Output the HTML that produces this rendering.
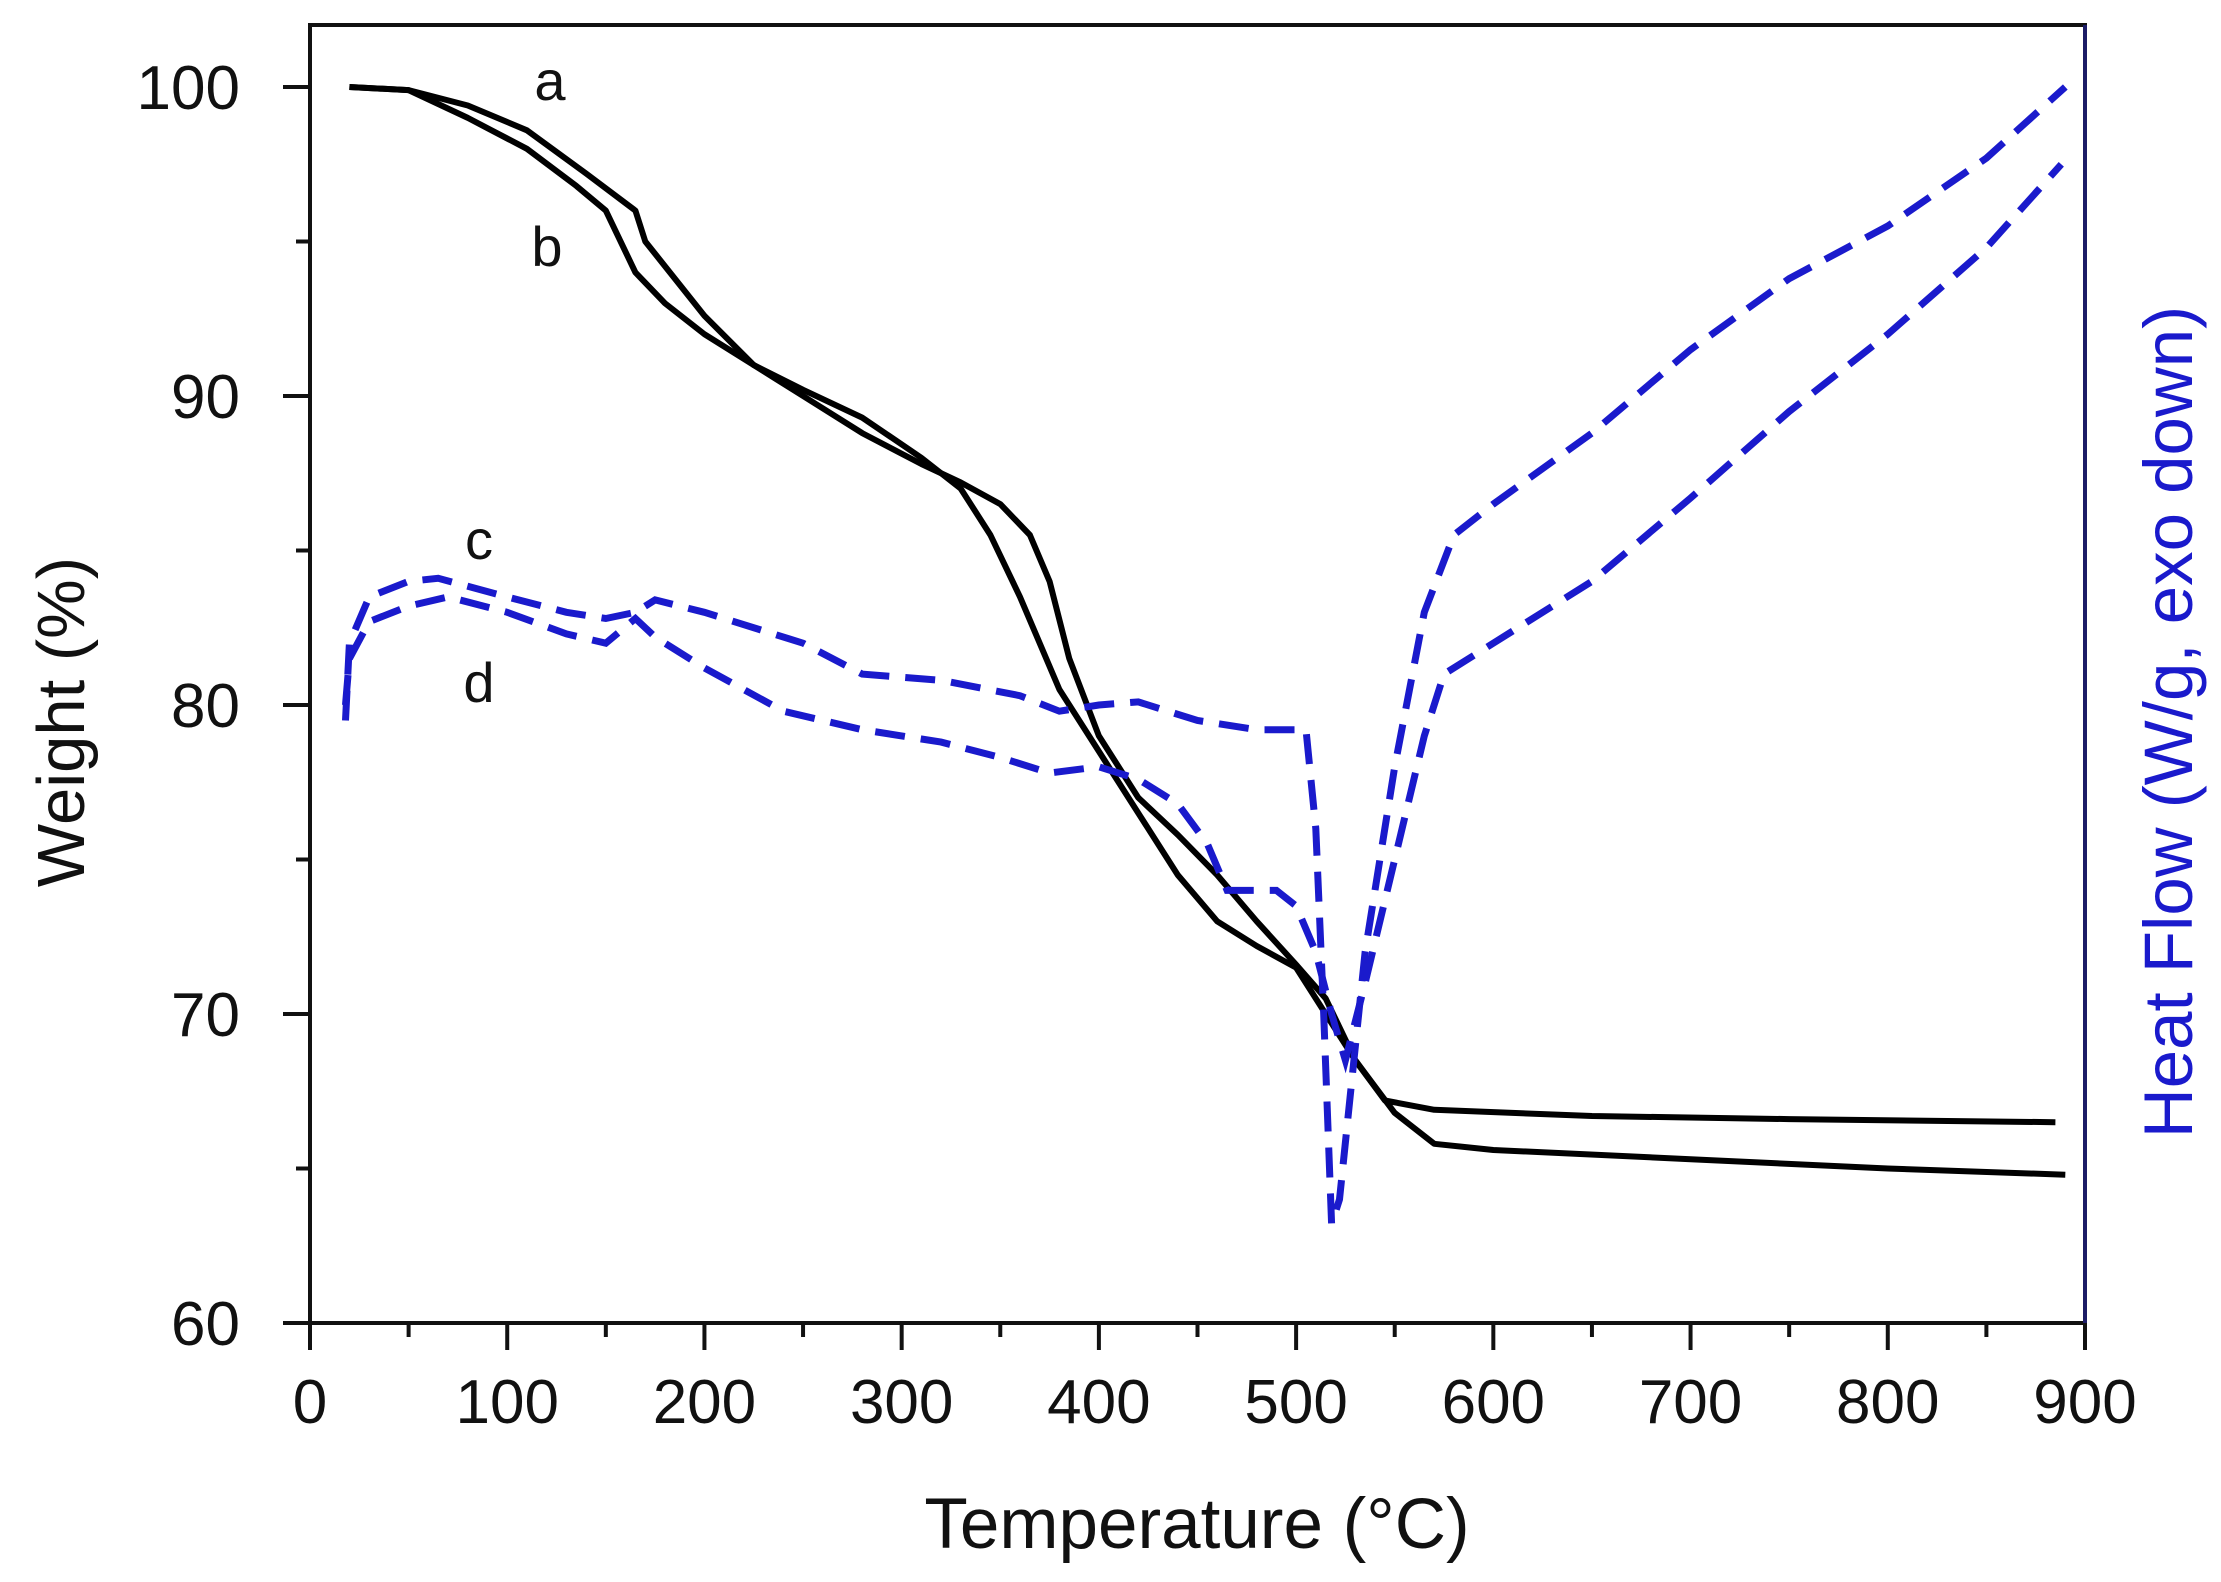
<!DOCTYPE html>
<html><head><meta charset="utf-8"><style>
html,body{margin:0;padding:0;background:#fff;}
svg{display:block;font-family:"Liberation Sans",Arial,sans-serif;}
</style></head><body>
<svg id="chart" width="2221" height="1582" viewBox="0 0 2221 1582" xmlns="http://www.w3.org/2000/svg">
<g id="axes"></g>
<g id="series"></g>
<text x="1197" y="1548" font-size="71" text-anchor="middle" fill="#111">Temperature (°C)</text>
<text transform="translate(84,722) rotate(-90)" font-size="67" text-anchor="middle" fill="#111">Weight (%)</text>
<text transform="translate(2192,722) rotate(-90)" font-size="69" text-anchor="middle" fill="#1a1acc">Heat Flow (W/g, exo down)</text>
<text x="550" y="100" font-size="56" text-anchor="middle" fill="#111">a</text>
<text x="547" y="266" font-size="56" text-anchor="middle" fill="#111">b</text>
<text x="479" y="559" font-size="56" text-anchor="middle" fill="#111">c</text>
<text x="479" y="702" font-size="56" text-anchor="middle" fill="#111">d</text>
</svg>
<script>
const xTicks=[0,100,200,300,400,500,600,700,800,900];
const yTicks=[60,70,80,90,100];
const aT=[20,50,80,110,140,165,170,180,200,225,250,280,310,330,350,365,375,385,400,420,440,460,480,500,515,530,545,570,650,750,885];
const aW=[100,99.9,99.4,98.6,97.2,96,95,94.2,92.6,91,90,88.8,87.8,87.2,86.5,85.5,84,81.5,79,77,75.8,74.5,73,71.6,70.5,68.5,67.2,66.9,66.7,66.6,66.5];
const bT=[20,50,80,110,135,150,165,180,200,225,250,280,310,330,345,360,380,400,420,440,460,480,500,515,530,550,570,600,700,800,890];
const bW=[100,99.9,99,98,96.8,96,94,93,92,91,90.2,89.3,88,87,85.5,83.5,80.5,78.5,76.5,74.5,73,72.2,71.5,70,68.5,66.8,65.8,65.6,65.3,65,64.8];
const cT=[18,20,30,50,65,100,130,150,165,175,200,250,280,320,360,380,400,420,450,480,505,510,514,518,522,535,550,565,580,600,650,700,750,800,850,890];
const cH=[79.5,82,83.5,84,84.1,83.5,83,82.8,83,83.4,83,82,81,80.8,80.3,79.8,80,80.1,79.5,79.2,79.2,76,70,63.2,64,72,78,83,85.5,86.5,88.8,91.5,93.8,95.5,97.7,100];
const dT=[18,20,30,50,70,100,130,150,165,175,200,240,280,320,350,375,400,420,440,455,465,490,500,510,518,525,535,550,565,575,600,650,700,750,800,850,888];
const dH=[80,81.5,82.7,83.2,83.5,83,82.3,82,82.8,82.2,81.2,79.8,79.2,78.8,78.3,77.8,78,77.6,76.8,75.5,74,74,73.5,72,70,68.5,71,75,79,81,82,84,86.7,89.5,92,94.8,97.5];

const L=310,R=2085,T=25,B=1323;
const xS=t=>L+(t-0)*(R-L)/900;
const yS=v=>B-(v-60)*(B-87)/40;
const NS='http://www.w3.org/2000/svg';
function mk(tag,attrs,parent){const e=document.createElementNS(NS,tag);for(const k in attrs)e.setAttribute(k,attrs[k]);parent.appendChild(e);return e;}
const ax=document.getElementById('axes'),se=document.getElementById('series');
let e;
e=mk('rect',{x:L,y:T,width:R-L,height:B-T,fill:'none',stroke:'#111','stroke-width':4},ax);


e=mk('line',{x1:R,y1:T,x2:R,y2:B,stroke:'#1c1c66','stroke-width':4},ax);


xTicks.forEach((t,i)=>{
  e=mk('line',{x1:xS(t),y1:B,x2:xS(t),y2:B+27,stroke:'#111','stroke-width':4},ax);
  
  
  if(i<xTicks.length-1){
    e=mk('line',{x1:xS(t+50),y1:B,x2:xS(t+50),y2:B+14,stroke:'#111','stroke-width':4},ax);
    
    
  }
  e=mk('text',{x:xS(t),y:B+100,'font-size':62,'text-anchor':'middle',fill:'#111'},ax);
  e.textContent=t;
  
  
});
yTicks.forEach((v,i)=>{
  e=mk('line',{x1:L-27,y1:yS(v),x2:L,y2:yS(v),stroke:'#111','stroke-width':4},ax);
  
  
  if(i<yTicks.length-1){
    e=mk('line',{x1:L-14,y1:yS(v+5),x2:L,y2:yS(v+5),stroke:'#111','stroke-width':4},ax);
    
    
  }
  e=mk('text',{x:L-70,y:yS(v)+22,'font-size':62,'text-anchor':'end',fill:'#111'},ax);
  e.textContent=v;
  
  
});
function path(ts,vs){return ts.map((t,i)=>(i?'L':'M')+xS(t).toFixed(1)+','+yS(vs[i]).toFixed(1)).join('');}
e=mk('path',{d:path(aT,aW),fill:'none',stroke:'#000','stroke-width':6,'stroke-linejoin':'round'},se);


e=mk('path',{d:path(bT,bW),fill:'none',stroke:'#000','stroke-width':6,'stroke-linejoin':'round'},se);


e=mk('path',{d:path(cT,cH),fill:'none',stroke:'#1a1acc','stroke-width':7,'stroke-dasharray':'30 16'},se);


e=mk('path',{d:path(dT,dH),fill:'none',stroke:'#1a1acc','stroke-width':7,'stroke-dasharray':'30 16'},se);


</script>
</body></html>
